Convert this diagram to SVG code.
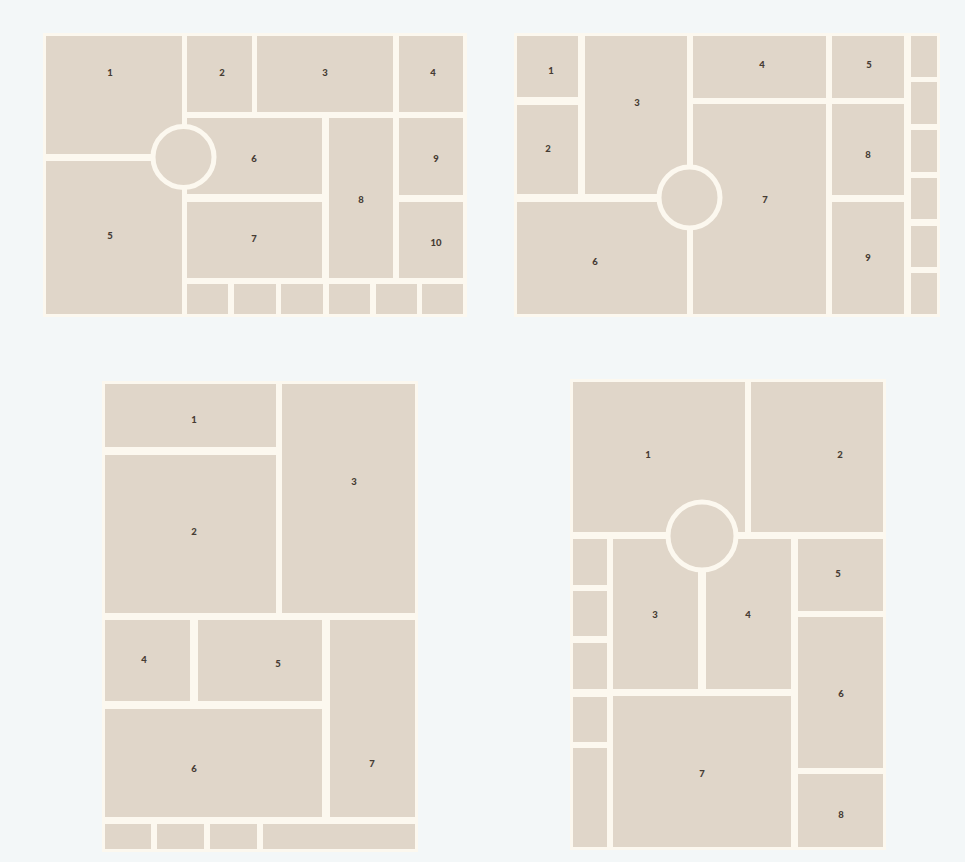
<svg xmlns="http://www.w3.org/2000/svg" width="965" height="862" viewBox="0 0 965 862">
<style>
.bg{fill:#f3f7f8}
.panel{fill:#fcf8ef}
.t{fill:#e0d6c9}
.c{fill:#e0d6c9;stroke:#fcf8ef;stroke-width:5}
.l{font-family:"Lato","Liberation Sans",sans-serif;font-size:9.5px;font-weight:900;fill:#463c34;text-anchor:middle;dominant-baseline:central}
</style>
<rect class="bg" x="0" y="0" width="965" height="862"/>

<g id="panel1">
<rect class="panel" x="43" y="33" width="424" height="284"/>
<g id="p1-1"><rect class="t" x="46" y="36" width="136" height="118"/><text class="l" x="110" y="72">1</text></g>
<g id="p1-2"><rect class="t" x="187" y="36" width="65" height="76"/><text class="l" x="222" y="72">2</text></g>
<g id="p1-3"><rect class="t" x="257" y="36" width="136" height="76"/><text class="l" x="325" y="72">3</text></g>
<g id="p1-4"><rect class="t" x="399" y="36" width="64" height="76"/><text class="l" x="433" y="72">4</text></g>
<g id="p1-5"><rect class="t" x="46" y="161" width="136" height="153"/><text class="l" x="110" y="235">5</text></g>
<g id="p1-6"><rect class="t" x="187" y="118" width="135" height="76"/><text class="l" x="254" y="158">6</text></g>
<g id="p1-7"><rect class="t" x="187" y="202" width="135" height="76"/><text class="l" x="254" y="238">7</text></g>
<g id="p1-8"><rect class="t" x="329" y="118" width="64" height="160"/><text class="l" x="361" y="199">8</text></g>
<g id="p1-9"><rect class="t" x="399" y="118" width="64" height="77"/><text class="l" x="436" y="158">9</text></g>
<g id="p1-10"><rect class="t" x="399" y="202" width="64" height="76"/><text class="l" x="436" y="242">10</text></g>
<g id="p1-b1"><rect class="t" x="187" y="284" width="41" height="30"/></g>
<g id="p1-b2"><rect class="t" x="234" y="284" width="42" height="30"/></g>
<g id="p1-b3"><rect class="t" x="281" y="284" width="42" height="30"/></g>
<g id="p1-b4"><rect class="t" x="329" y="284" width="41" height="30"/></g>
<g id="p1-b5"><rect class="t" x="376" y="284" width="41" height="30"/></g>
<g id="p1-b6"><rect class="t" x="422" y="284" width="41" height="30"/></g>
<g id="p1-circle"><circle class="c" cx="183.5" cy="157" r="30.5"/></g>
</g>

<g id="panel2">
<rect class="panel" x="514" y="33" width="426" height="284"/>
<g id="p2-1"><rect class="t" x="517" y="36" width="61" height="61"/><text class="l" x="551" y="70">1</text></g>
<g id="p2-2"><rect class="t" x="517" y="105" width="61" height="89"/><text class="l" x="548" y="148">2</text></g>
<g id="p2-3"><rect class="t" x="585" y="36" width="102" height="158"/><text class="l" x="637" y="102">3</text></g>
<g id="p2-6"><rect class="t" x="517" y="202" width="170" height="112"/><text class="l" x="595" y="261">6</text></g>
<g id="p2-4"><rect class="t" x="693" y="36" width="133" height="62"/><text class="l" x="762" y="64">4</text></g>
<g id="p2-7"><rect class="t" x="693" y="104" width="133" height="210"/><text class="l" x="765" y="199">7</text></g>
<g id="p2-5"><rect class="t" x="832" y="36" width="72" height="62"/><text class="l" x="869" y="64">5</text></g>
<g id="p2-8"><rect class="t" x="832" y="104" width="72" height="91"/><text class="l" x="868" y="154">8</text></g>
<g id="p2-9"><rect class="t" x="832" y="202" width="72" height="112"/><text class="l" x="868" y="257">9</text></g>
<g id="p2-s1"><rect class="t" x="911" y="36" width="26" height="41"/></g>
<g id="p2-s2"><rect class="t" x="911" y="82" width="26" height="42"/></g>
<g id="p2-s3"><rect class="t" x="911" y="130" width="26" height="42"/></g>
<g id="p2-s4"><rect class="t" x="911" y="178" width="26" height="41"/></g>
<g id="p2-s5"><rect class="t" x="911" y="226" width="26" height="41"/></g>
<g id="p2-s6"><rect class="t" x="911" y="273" width="26" height="41"/></g>
<g id="p2-circle"><circle class="c" cx="689.5" cy="197.5" r="30.5"/></g>
</g>

<g id="panel3">
<rect class="panel" x="102" y="381" width="316" height="471"/>
<g id="p3-1"><rect class="t" x="105" y="384" width="171" height="63"/><text class="l" x="194" y="419">1</text></g>
<g id="p3-2"><rect class="t" x="105" y="455" width="171" height="158"/><text class="l" x="194" y="531">2</text></g>
<g id="p3-3"><rect class="t" x="282" y="384" width="133" height="229"/><text class="l" x="354" y="481">3</text></g>
<g id="p3-4"><rect class="t" x="105" y="620" width="85" height="81"/><text class="l" x="144" y="659">4</text></g>
<g id="p3-5"><rect class="t" x="198" y="620" width="124" height="81"/><text class="l" x="278" y="663">5</text></g>
<g id="p3-6"><rect class="t" x="105" y="709" width="217" height="108"/><text class="l" x="194" y="768">6</text></g>
<g id="p3-7"><rect class="t" x="330" y="620" width="85" height="197"/><text class="l" x="372" y="763">7</text></g>
<g id="p3-b1"><rect class="t" x="105" y="824" width="46" height="25"/></g>
<g id="p3-b2"><rect class="t" x="157" y="824" width="47" height="25"/></g>
<g id="p3-b3"><rect class="t" x="210" y="824" width="47" height="25"/></g>
<g id="p3-b4"><rect class="t" x="263" y="824" width="152" height="25"/></g>
</g>

<g id="panel4">
<rect class="panel" x="570" y="379" width="316" height="471"/>
<g id="p4-1"><rect class="t" x="573" y="382" width="172" height="150"/><text class="l" x="648" y="454">1</text></g>
<g id="p4-2"><rect class="t" x="751" y="382" width="132" height="150"/><text class="l" x="840" y="454">2</text></g>
<g id="p4-3"><rect class="t" x="613" y="539" width="85" height="150"/><text class="l" x="655" y="614">3</text></g>
<g id="p4-4"><rect class="t" x="706" y="539" width="85" height="150"/><text class="l" x="748" y="614">4</text></g>
<g id="p4-5"><rect class="t" x="798" y="539" width="85" height="72"/><text class="l" x="838" y="573">5</text></g>
<g id="p4-6"><rect class="t" x="798" y="617" width="85" height="151"/><text class="l" x="841" y="693">6</text></g>
<g id="p4-7"><rect class="t" x="613" y="696" width="178" height="151"/><text class="l" x="702" y="773">7</text></g>
<g id="p4-8"><rect class="t" x="798" y="774" width="85" height="73"/><text class="l" x="841" y="814">8</text></g>
<g id="p4-s1"><rect class="t" x="573" y="539" width="34" height="46"/></g>
<g id="p4-s2"><rect class="t" x="573" y="591" width="34" height="45"/></g>
<g id="p4-s3"><rect class="t" x="573" y="643" width="34" height="46"/></g>
<g id="p4-s4"><rect class="t" x="573" y="697" width="34" height="45"/></g>
<g id="p4-s5"><rect class="t" x="573" y="748" width="34" height="99"/></g>
<g id="p4-circle"><circle class="c" cx="702" cy="536" r="34"/></g>
</g>
</svg>
